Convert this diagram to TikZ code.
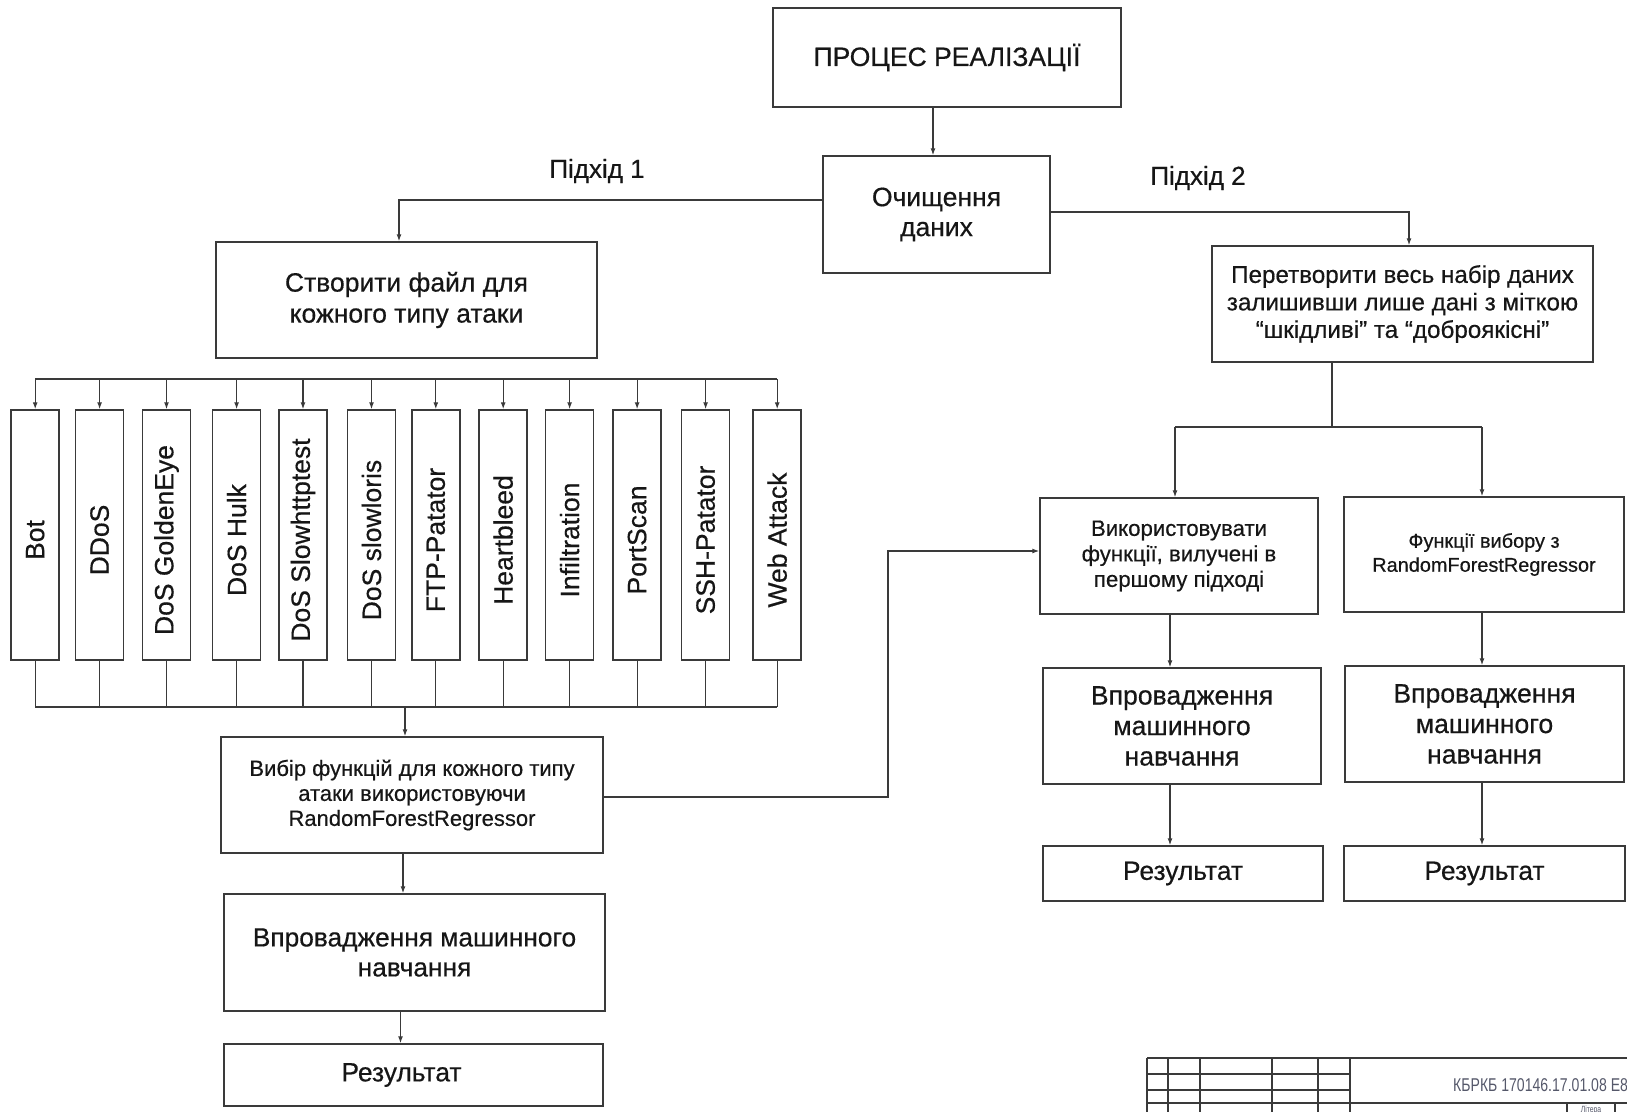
\documentclass[tikz,border=0pt]{standalone}
\usepackage{fontspec}
\setmainfont{Liberation Sans}[RawFeature={embolden=0.5}]
\newfontfamily\stampfont[FakeStretch=0.76]{Liberation Sans}
\usetikzlibrary{arrows.meta}
\definecolor{ink}{HTML}{161616}
\definecolor{edge}{HTML}{3A3A3A}
\definecolor{stampink}{HTML}{55586A}
\newcommand\fsz[2]{\fontsize{#1}{#2}\selectfont}
\tikzset{
  blk/.style={draw=edge, line width=1.5pt, align=center, inner sep=0pt, text=ink},
  conn/.style={draw=edge, line width=1.2pt},
  arr/.style={conn, -{Latex[length=7pt,width=5pt]}},
  attack/.style={blk, minimum width=48pt, minimum height=250pt},
  vlabel/.style={rotate=90, text=ink, font=\fsz{26.5}{30}, inner sep=0pt},
  gridline/.style={draw=edge, line width=1.1pt},
  thickgrid/.style={draw=edge, line width=2pt},
}
\begin{document}
\begin{tikzpicture}[x=1pt, y=-1pt]
\useasboundingbox (0,0) rectangle (1627,1111);
\clip (0,0) rectangle (1627,1111);

% top of the flow
\node[blk, minimum width=348pt, minimum height=99pt, font=\fsz{26.5}{30}] (top) at (947,57.5) {ПРОЦЕС РЕАЛІЗАЦІЇ};
\node[blk, minimum width=227pt, minimum height=117pt, font=\fsz{26.5}{30}] (clean) at (936.5,214.5) {Очищення\\даних};
\draw[arr] ([xshift=-14pt]top.south) -- ([xshift=-14pt]top.south |- clean.north);

\node[text=ink, font=\fsz{26}{29}, inner sep=0pt] (ap1) at (597,171) {Підхід 1};
\node[text=ink, font=\fsz{26}{29}, inner sep=0pt] (ap2) at (1198,178) {Підхід 2};

% approach 1
\node[blk, minimum width=381pt, minimum height=116pt, font=\fsz{26.5}{31}] (create) at (406.5,300) {Створити файл для\\кожного типу атаки};
\draw[arr] ([yshift=14.5pt]clean.west) -| ([xshift=-7.5pt]create.north);

% attack type columns
\coordinate (bustop) at (0,379);
\coordinate (busbot) at (0,707);
\foreach \n/\x/\t in {1/35.2/Bot, 2/99.6/DDoS, 3/166.5/DoS GoldenEye, 4/236.6/DoS Hulk,
  5/303.0/DoS Slowhttptest, 6/371.5/DoS slowloris, 7/435.8/FTP-Patator, 8/503.2/Heartbleed,
  9/569.6/Infiltration, 10/637.1/PortScan, 11/705.6/SSH-Patator, 12/777.2/Web Attack} {
  \node[attack] (a\n) at (\x,535) {};
  \node[vlabel] (a\n-t) at ([yshift=-5pt]a\n.center) {\t};
  \draw[arr] (a\n.north |- bustop) -- (a\n.north);
  \draw[conn] (a\n.south) -- (a\n.south |- busbot);
}
\draw[conn] (a1.north |- bustop) -- (a12.north |- bustop);
\draw[conn] (a1.south |- busbot) -- (a12.south |- busbot);

\node[blk, minimum width=382pt, minimum height=116pt, font=\fsz{22}{25}] (select) at (412,795) {Вибір функцій для кожного типу\\атаки використовуючи\\RandomForestRegressor};
\draw[arr] ([xshift=-7pt]select.north |- busbot) -- ([xshift=-7pt]select.north);

\node[blk, minimum width=381pt, minimum height=117pt, font=\fsz{26.3}{30}] (ml1) at (414.5,952.5) {Впровадження машинного\\навчання};
\node[blk, minimum width=379pt, minimum height=62pt] (res1) at (413.5,1075) {};
\node[text=ink, font=\fsz{26.4}{30}, inner sep=0pt] (res1-t) at ([xshift=-12pt]res1.center) {Результат};
\draw[arr] ([xshift=-9pt]select.south) -- ([xshift=-9pt]select.south |- ml1.north);
\draw[arr] ([xshift=-14pt]ml1.south) -- ([xshift=-14pt]ml1.south |- res1.north);

% approach 2
\node[blk, minimum width=381pt, minimum height=116pt, font=\fsz{24.2}{27.5}] (convert) at (1402.5,304) {Перетворити весь набір даних\\залишивши лише дані з міткою\\“шкідливі" та “доброякісні"};
\draw[arr] ([yshift=2.5pt]clean.east) -| ([xshift=6.5pt]convert.north);

\node[blk, minimum width=278pt, minimum height=116pt, font=\fsz{22.2}{25.5}] (use) at (1179,556) {Використовувати\\функції, вилучені в\\першому підході};
\node[blk, minimum width=280pt, minimum height=115pt, font=\fsz{19.9}{24}] (rf) at (1484,554.5) {Функції вибору з\\RandomForestRegressor};
\coordinate (split) at (0,427);
\draw[conn] ([xshift=-70.5pt]convert.south) -- ([xshift=-70.5pt]convert.south |- split);
\draw[conn] ([xshift=-4pt]use.north |- split) -- ([xshift=-2pt]rf.north |- split);
\draw[arr] ([xshift=-4pt]use.north |- split) -- ([xshift=-4pt]use.north);
\draw[arr] ([xshift=-2pt]rf.north |- split) -- ([xshift=-2pt]rf.north);

\coordinate (bend) at (888,551);
\draw[arr] ([yshift=-2pt]select.east) -| (bend) -- (use.west |- bend);

\node[blk, minimum width=278pt, minimum height=116pt, font=\fsz{26.6}{30.5}] (ml2) at (1182,726) {Впровадження\\машинного\\навчання};
\node[blk, minimum width=279pt, minimum height=116pt, font=\fsz{26.6}{30.5}] (ml3) at (1484.5,724) {Впровадження\\машинного\\навчання};
\node[blk, minimum width=280pt, minimum height=55pt, font=\fsz{26.4}{30}] (res2) at (1183,873.5) {Результат};
\node[blk, minimum width=281pt, minimum height=55pt, font=\fsz{26.4}{30}] (res3) at (1484.5,873.5) {Результат};
\draw[arr] ([xshift=-9pt]use.south) -- ([xshift=-9pt]use.south |- ml2.north);
\draw[arr] ([xshift=-12pt]ml2.south) -- ([xshift=-12pt]ml2.south |- res2.north);
\draw[arr] ([xshift=-2pt]rf.south) -- ([xshift=-2pt]rf.south |- ml3.north);
\draw[arr] ([xshift=-2.5pt]ml3.south) -- ([xshift=-2.5pt]ml3.south |- res3.north);

% drawing stamp in the corner
\draw[thickgrid] (1147,1058) -- (1640,1058);
\draw[gridline] (1147,1074) -- (1350,1074);
\draw[gridline] (1147,1090) -- (1350,1090);
\draw[thickgrid] (1147,1103) -- (1640,1103);
\foreach \x in {1147,1168,1200,1272,1318,1350} {
  \draw[thickgrid] (\x,1058) -- (\x,1115);
}
\draw[gridline] (1567,1103) -- (1567,1115);
\draw[gridline] (1615,1103) -- (1615,1115);
\node[anchor=west, text=stampink, font=\stampfont\fsz{18.5}{20}, inner sep=0pt] (code) at (1453,1085) {КБРКБ 170146.17.01.08 Е8};
\node[anchor=north, text=stampink, font=\stampfont\fsz{9}{10}, inner sep=0pt] (lit) at (1591,1106) {Літера};
\end{tikzpicture}
\end{document}
